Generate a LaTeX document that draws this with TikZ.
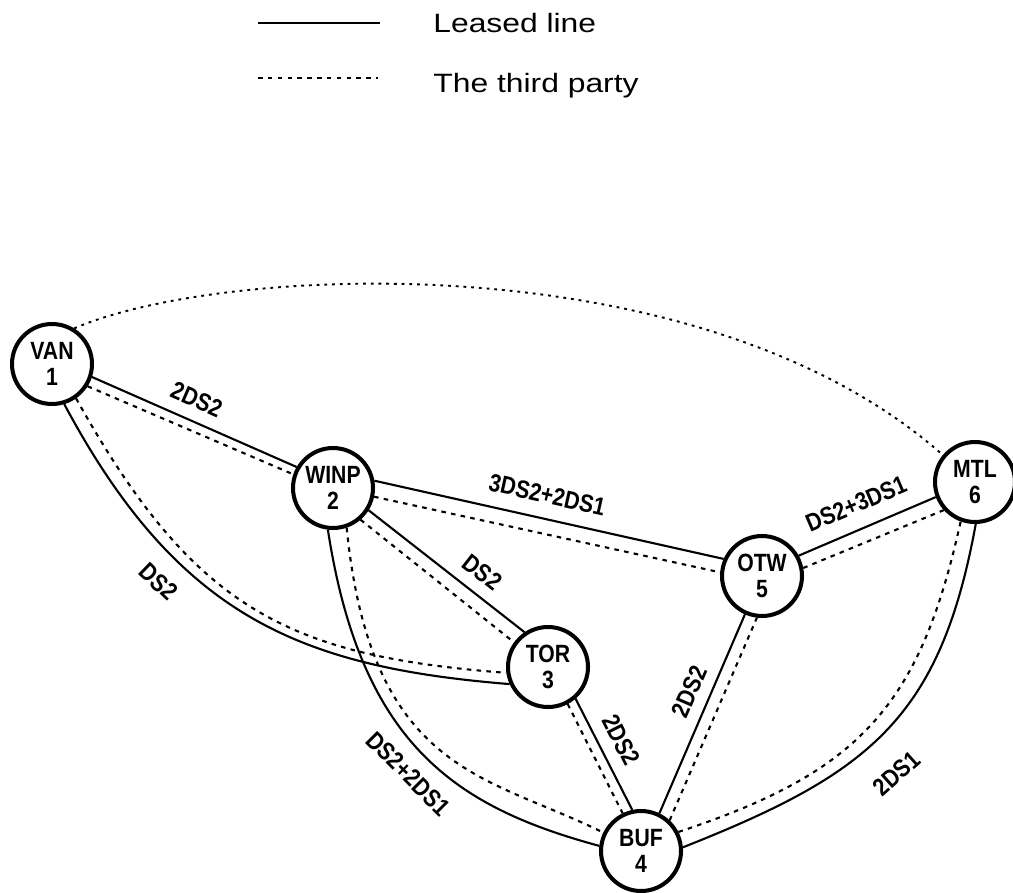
\documentclass[tikz,border=0pt]{standalone}
\usepackage{fontspec}
\usepackage{tikz}
\usetikzlibrary{calc}
\newfontfamily\nodofont[FakeStretch=0.85]{Liberation Sans}
\newfontfamily\legendafont[FakeStretch=1.2]{Liberation Sans}

\begin{document}
\begin{tikzpicture}[x=0.02cm, y=-0.02cm,
  citta/.style={circle, draw, line width=2.3pt, minimum size=1.6cm, inner sep=0pt,
    align=center, font=\nodofont\bfseries\fontsize{14.2}{14.8}\selectfont},
  affitto/.style={line width=1.2pt},
  terzi/.style={line width=1.2pt, dash pattern=on 2.6pt off 3pt},
  lontano/.style={line width=1.1pt, dash pattern=on 1.6pt off 2.8pt},
  sigla/.style={inner sep=0pt, sloped, font=\nodofont\bfseries\fontsize{14.2}{14.8}\selectfont},
  voce/.style={anchor=base west, inner sep=0pt, font=\legendafont\fontsize{15.1}{18}\selectfont}]

\useasboundingbox (0,0) rectangle (1013,892);

%------------------------------------------------
% LEGENDA
%------------------------------------------------
\coordinate (la) at (258,23);
\coordinate (lb) at (380,23);
\coordinate (lc) at (258,78);
\coordinate (ld) at (378,78);
\draw[affitto] (la) -- (lb);
\draw[terzi] (lc) -- (ld);
\node[voce] (vLeased) at (433,33) {Leased line};
\node[voce] (vThird) at (433,92) {The third party};

%------------------------------------------------
% CITTA'
%------------------------------------------------
\node[citta] (VAN)  at (52,364)  {VAN\\1};
\node[citta] (WINP) at (333,488) {WINP\\2};
\node[citta] (TOR)  at (548,667) {TOR\\3};
\node[citta] (BUF)  at (641,851) {BUF\\4};
\node[citta] (OTW)  at (762,576) {OTW\\5};
\node[citta] (MTL)  at (975,482) {MTL\\6};

%------------------------------------------------
% COLLEGAMENTI: linea affittata + terza parte
%------------------------------------------------
% VAN - WINP
\draw[affitto] (VAN.-18) -- (WINP.150) node[sigla, pos=.47, above=6.5pt] (e12) {2DS2};
\draw[terzi] (VAN.-32) -- (WINP.161);

% VAN - TOR
\draw[affitto] (VAN.-73) .. controls (177,615) and (298,667) .. (TOR.204)
  node[sigla, pos=.32, below=10pt] (e13) {DS2};
\draw[terzi] (VAN.-55) .. controls (194,610) and (288,656) .. (TOR.188);

% WINP - TOR
\draw[affitto] (WINP.-32) -- (TOR.124) node[sigla, pos=.645, above=6.6pt] (e23) {DS2};
\draw[terzi] (WINP.-49) -- (TOR.144);

% WINP - OTW
\draw[affitto] (WINP.10) -- (OTW.156) node[sigla, pos=.48, above=8pt] (e25) {3DS2+2DS1};
\draw[terzi] (WINP.-12) -- (OTW.175);

% WINP - BUF
\draw[affitto] (WINP.-97) .. controls (361,745) and (456,807) .. (BUF.173)
  node[sigla, pos=.51, below=8pt] (e24) {DS2+2DS1};
\draw[terzi] (WINP.-71) .. controls (371,774) and (488,775) .. (BUF.154);

% TOR - BUF
\draw[affitto] (TOR.-49) -- (BUF.102) node[sigla, pos=.46, above=6.9pt] (e34) {2DS2};
\draw[terzi] (TOR.-62) -- (BUF.116);

% BUF - OTW
\draw[affitto] (BUF.64) -- (OTW.-114) node[sigla, pos=.57, above=6pt] (e45) {2DS2};
\draw[terzi] (BUF.47) -- (OTW.-97);

% OTW - MTL
\draw[affitto] (OTW.29) -- (MTL.201) node[sigla, pos=.49, above=8.5pt] (e56) {DS2+3DS1};
\draw[terzi] (OTW.11) -- (MTL.222);

% BUF - MTL
\draw[affitto] (BUF.5) .. controls (868,774) and (940,720) .. (MTL.-89)
  node[sigla, pos=.45, below=16pt] (e46) {2DS1};
\draw[terzi] (BUF.27) .. controls (860,772) and (920,706) .. (MTL.-110);

% VAN - MTL (solo terza parte)
\draw[lontano] (VAN.58) .. controls (220,265) and (700,240) .. (MTL.140);
\end{tikzpicture}
\end{document}
